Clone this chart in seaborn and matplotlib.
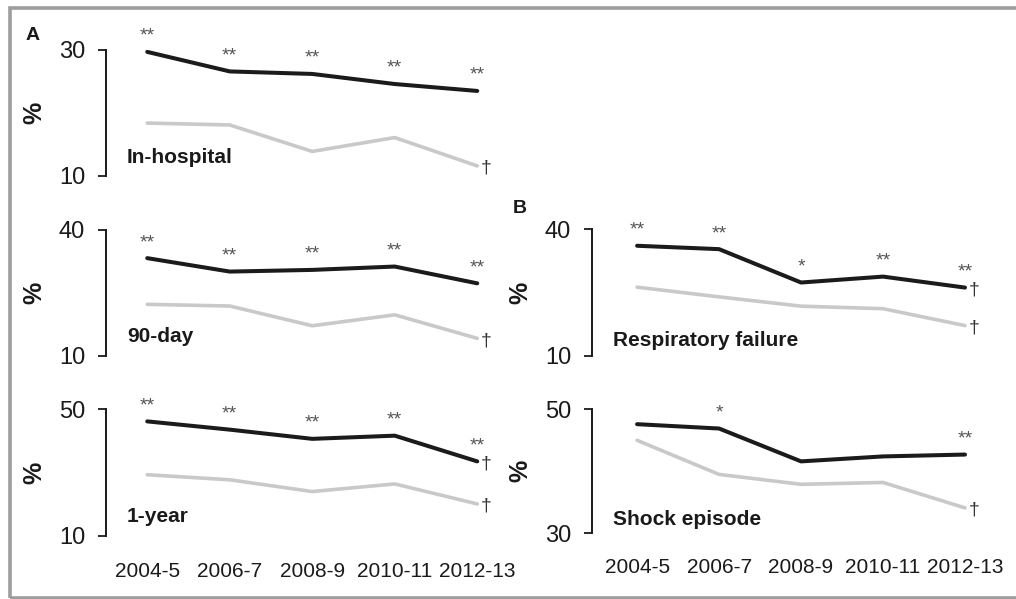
import numpy as np
import pandas as pd
import matplotlib
matplotlib.use("Agg")
import matplotlib.pyplot as plt
from matplotlib.patches import Rectangle
import seaborn as sns

sns.set_style("white")
plt.rcParams["font.family"] = ["Liberation Sans", "DejaVu Sans"]

# Study periods
periods = ["2004-5", "2006-7", "2008-9", "2010-11", "2012-13"]

# Mortality (%) - panel A
inhosp_high = [29.7, 26.6, 26.2, 24.6, 23.5]
inhosp_low = [18.4, 18.1, 13.9, 16.1, 11.6]
day90_high = [33.3, 30.1, 30.5, 31.3, 27.3]
day90_low = [22.3, 21.9, 17.2, 19.8, 14.2]
year1_high = [46.1, 43.5, 40.6, 41.6, 33.5]
year1_low = [29.3, 27.7, 24.0, 26.4, 20.1]

# Organ failure (%) - panel B
resp_high = [36.1, 35.3, 27.4, 28.8, 26.2]
resp_low = [26.3, 24.0, 21.8, 21.2, 17.2]
shock_high = [47.6, 46.9, 41.6, 42.4, 42.7]
shock_low = [45.0, 39.5, 37.9, 38.2, 34.1]

# Significance marks
inhosp_stars = ["**", "**", "**", "**", "**"]
day90_stars = ["**", "**", "**", "**", "**"]
year1_stars = ["**", "**", "**", "**", "**"]
resp_stars = ["**", "**", "*", "**", "**"]
shock_stars = ["", "*", "", "", "**"]

W, H = 1016, 599
fig = plt.figure(figsize=(W / 100, H / 100), dpi=100)

DARK = "#1b1b1b"
LIGHT = "#c9c9c9"


def add_px_axes(left, top, right, bottom):
    return fig.add_axes([left / W, 1 - bottom / H, (right - left) / W, (bottom - top) / H])


panels = [
    dict(title="In-hospital", high=inhosp_high, low=inhosp_low, stars=inhosp_stars,
         ylim=(10, 30), rect=(106, 50, 518.5, 176), xlim=(-0.5, 4.5),
         dag_high=False, dag_low=True, xt=False, ty=0.15, xpad=19),
    dict(title="90-day", high=day90_high, low=day90_low, stars=day90_stars,
         ylim=(10, 40), rect=(106, 230, 518.5, 356), xlim=(-0.5, 4.5),
         dag_high=False, dag_low=True, xt=False, ty=0.153, xpad=19),
    dict(title="1-year", high=year1_high, low=year1_low, stars=year1_stars,
         ylim=(10, 50), rect=(106, 409, 518.5, 536), xlim=(-0.5, 4.5),
         dag_high=True, dag_low=True, xt=True, ty=0.152, xpad=19),
    dict(title="Respiratory failure", high=resp_high, low=resp_low, stars=resp_stars,
         ylim=(10, 40), rect=(592, 229.3, 1006, 356), xlim=(-0.55, 4.5),
         dag_high=True, dag_low=True, xt=False, ty=0.126, xpad=19),
    dict(title="Shock episode", high=shock_high, low=shock_low, stars=shock_stars,
         ylim=(30, 50), rect=(592, 409.3, 1006, 533.3), xlim=(-0.55, 4.5),
         dag_high=False, dag_low=True, xt=True, ty=0.113, xpad=18),
]

pos = np.arange(len(periods))

for p in panels:
    ax = add_px_axes(*p["rect"])
    df = pd.DataFrame({
        "period": np.concatenate([pos, pos]),
        "value": p["low"] + p["high"],
        "group": ["low"] * len(pos) + ["high"] * len(pos),
    })
    sns.lineplot(data=df[df.group == "low"], x="period", y="value", color=LIGHT,
                 lw=2.6, ax=ax, legend=False, estimator=None, clip_on=False)
    sns.lineplot(data=df[df.group == "high"], x="period", y="value", color=DARK,
                 lw=2.9, ax=ax, legend=False, estimator=None, clip_on=False)

    ax.set_xlim(*p["xlim"])
    ax.set_ylim(*p["ylim"])
    ax.set_yticks(list(p["ylim"]))
    ax.tick_params(axis="y", labelsize=17, length=6, width=1.3, pad=9,
                   colors="#1a1a1a", direction="out", left=True)
    ax.set_xticks(pos)
    if p["xt"]:
        ax.set_xticklabels(periods)
        ax.tick_params(axis="x", labelsize=15, length=0, pad=p["xpad"], colors="#1a1a1a")
    else:
        ax.set_xticklabels([])
        ax.tick_params(axis="x", length=0)
    for s in ["top", "right", "bottom"]:
        ax.spines[s].set_visible(False)
    ax.spines["left"].set_linewidth(1.4)
    ax.spines["left"].set_color("#1a1a1a")
    ax.set_xlabel("")
    ax.set_ylabel("%", fontsize=18, fontweight="bold", color="#1a1a1a")
    ax.yaxis.set_label_coords(-0.145, 0.5)
    ax.patch.set_alpha(0)

    ax.text(0.051, p["ty"], p["title"], transform=ax.transAxes, fontsize=15,
            fontweight="bold", color="#1a1a1a", ha="left", va="center")

    for i, s in enumerate(p["stars"]):
        if s:
            ax.annotate(s, (pos[i], p["high"][i]), xytext=(0, 8),
                        textcoords="offset points", ha="center", va="baseline",
                        fontsize=14, color="#555555", annotation_clip=False)
    last = len(pos) - 1
    if p["dag_high"]:
        ax.annotate("\u2020", (pos[last], p["high"][last]), xytext=(6.5, -5),
                    textcoords="offset points", ha="center", va="baseline",
                    fontsize=14, color="#333333", annotation_clip=False)
    if p["dag_low"]:
        ax.annotate("\u2020", (pos[last], p["low"][last]), xytext=(6.5, -5),
                    textcoords="offset points", ha="center", va="baseline",
                    fontsize=14, color="#333333", annotation_clip=False)

fig.text(33 / W, 1 - 35 / H, "A", fontsize=14, fontweight="bold", color="#1a1a1a",
         ha="center", va="center")
fig.text(520 / W, 1 - 208.5 / H, "B", fontsize=14, fontweight="bold", color="#1a1a1a",
         ha="center", va="center")

fig.patches.append(Rectangle((9.5 / W, 1 - 597.5 / H), (1040 - 9.5) / W, (597.5 - 8) / H,
                             transform=fig.transFigure, fill=False,
                             edgecolor="#9d9d9d", linewidth=2.6))

fig.savefig("out.png", dpi=100)
